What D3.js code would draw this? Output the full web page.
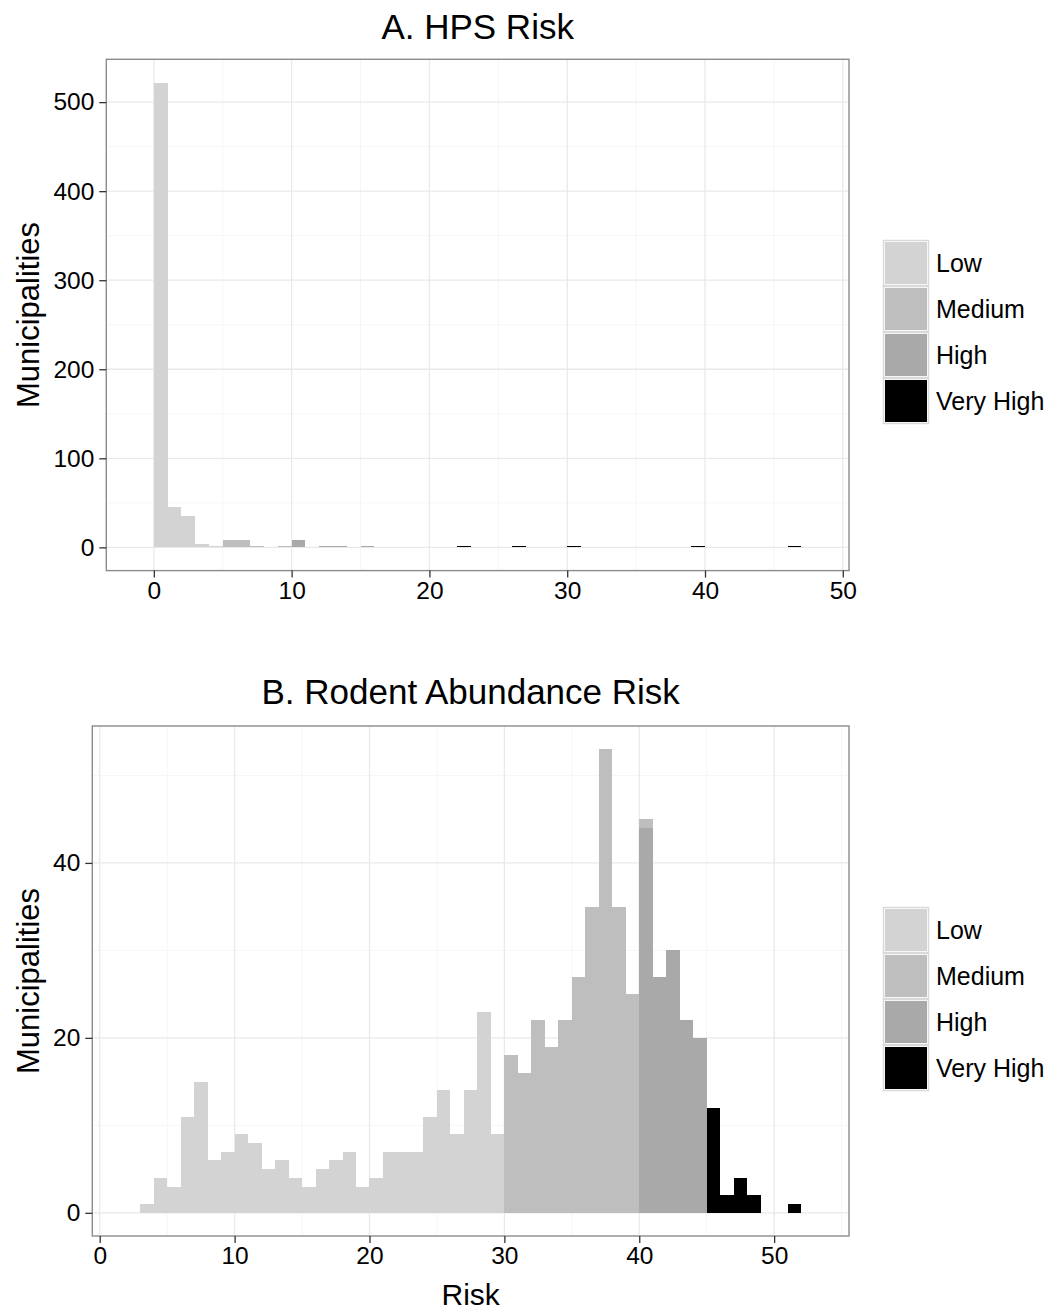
<!DOCTYPE html>
<html>
<head>
<meta charset="utf-8">
<script src="https://cdn.jsdelivr.net/npm/d3@7"></script>
<style>
  body { margin: 0; background: #fff; }
  text { font-family: "Liberation Sans", Arial, sans-serif; fill: #000; }
</style>
</head>
<body>
<svg id="chart" width="1056" height="1313"></svg>
<script>
// risk levels and their fills
const riskLevels = ["Low", "Medium", "High", "Very High"];
const riskColors = ["#d3d3d3", "#bebebe", "#a9a9a9", "#000000"];

// A. HPS risk - counts per bin (bin width 1), each array starts at its bin
const hpsLowStart = 0;
const hpsLow = [522, 45, 35, 4, 2];
const hpsMediumStart = 5;
const hpsMedium = [8, 8, 2, 0, 2];
const hpsHighStart = 10;
const hpsHigh = [8, 0, 1, 1, 0, 1];
const hpsVeryHighStart = 22;
const hpsVeryHigh = [1, 0, 0, 0, 1, 0, 0, 0, 1, 0, 0, 0, 0, 0, 0, 0, 0, 1, 0, 0, 0, 0, 0, 0, 1];

// B. Rodent abundance risk
const rodentLowStart = 3;
const rodentLow = [1, 4, 3, 11, 15, 6, 7, 9, 8, 5, 6, 4, 3, 5, 6, 7, 3, 4, 7, 7, 7, 11, 14, 9, 14, 23, 9];
const rodentMediumStart = 30;
const rodentMedium = [18, 16, 22, 19, 22, 27, 35, 53, 35, 25, 1];
const rodentHighStart = 40;
const rodentHigh = [44, 27, 30, 22, 20];
const rodentVeryHighStart = 45;
const rodentVeryHigh = [12, 2, 4, 2, 0, 0, 1];

const xTicks = [0, 10, 20, 30, 40, 50];
const hpsYTicks = [0, 100, 200, 300, 400, 500];
const rodentYTicks = [0, 20, 40];

const svg = d3.select("#chart");
const color = d3.scaleOrdinal().domain(riskLevels).range(riskColors);

// wide table: one row per bin, one column per level
function buildRows(series) {
  const byBin = new Map();
  series.forEach(s => {
    s.counts.forEach((c, i) => {
      const bin = s.start + i;
      if (!byBin.has(bin)) {
        const row = { bin: bin };
        riskLevels.forEach(l => row[l] = 0);
        byBin.set(bin, row);
      }
      byBin.get(bin)[s.level] += c;
    });
  });
  return Array.from(byBin.values()).sort((a, b) => a.bin - b.bin);
}

function drawPanel(cfg) {
  const rows = buildRows(cfg.series);
  // ggplot stacks the first level on top
  const stacked = d3.stack().keys(riskLevels.slice().reverse())(rows);

  const minBin = d3.min(rows, d => d.bin) - 1;
  const maxBin = d3.max(rows, d => d.bin) + 2;
  const xPad = (maxBin - minBin) * 0.05;
  const yMax = d3.max(stacked, s => d3.max(s, d => d[1]));
  const yPad = yMax * 0.05;

  const x = d3.scaleLinear().domain([minBin - xPad, maxBin + xPad]).range([cfg.left, cfg.right]);
  const y = d3.scaleLinear().domain([-yPad, yMax + yPad]).range([cfg.bottom, cfg.top]);

  const g = svg.append("g");

  // grid (minor then major)
  const xMinor = d3.range(xTicks[0] - 5, xTicks[xTicks.length - 1] + 10, 10).filter(v => v > x.domain()[0] && v < x.domain()[1]);
  const yStep = cfg.yTicks[1] - cfg.yTicks[0];
  const yMinor = d3.range(cfg.yTicks[0] - yStep / 2, cfg.yTicks[cfg.yTicks.length - 1] + yStep, yStep).filter(v => v > y.domain()[0] && v < y.domain()[1]);

  g.selectAll("line.xminor").data(xMinor).enter().append("line")
    .attr("x1", d => x(d)).attr("x2", d => x(d))
    .attr("y1", cfg.top).attr("y2", cfg.bottom)
    .attr("stroke", "#f6f6f6").attr("stroke-width", 1);
  g.selectAll("line.yminor").data(yMinor).enter().append("line")
    .attr("x1", cfg.left).attr("x2", cfg.right)
    .attr("y1", d => y(d)).attr("y2", d => y(d))
    .attr("stroke", "#f6f6f6").attr("stroke-width", 1);
  g.selectAll("line.xmajor").data(xTicks).enter().append("line")
    .attr("x1", d => x(d)).attr("x2", d => x(d))
    .attr("y1", cfg.top).attr("y2", cfg.bottom)
    .attr("stroke", "#e9e9e9").attr("stroke-width", 1.3);
  g.selectAll("line.ymajor").data(cfg.yTicks).enter().append("line")
    .attr("x1", cfg.left).attr("x2", cfg.right)
    .attr("y1", d => y(d)).attr("y2", d => y(d))
    .attr("stroke", "#e9e9e9").attr("stroke-width", 1.3);

  // bars
  g.selectAll("g.layer").data(stacked).enter().append("g")
    .attr("fill", s => color(s.key))
    .attr("shape-rendering", "crispEdges")
    .selectAll("rect").data(s => s.filter(d => d[1] > d[0])).enter().append("rect")
    .attr("x", d => x(d.data.bin))
    .attr("width", d => x(d.data.bin + 1) - x(d.data.bin))
    .attr("y", d => y(d[1]))
    .attr("height", d => Math.max(1, y(d[0]) - y(d[1])));

  // panel border
  g.append("rect")
    .attr("x", cfg.left).attr("y", cfg.top)
    .attr("width", cfg.right - cfg.left).attr("height", cfg.bottom - cfg.top)
    .attr("fill", "none").attr("stroke", "#8c8c8c").attr("stroke-width", 1.4);

  // axes
  const xAxis = g.append("g")
    .attr("transform", `translate(0,${cfg.bottom})`)
    .call(d3.axisBottom(x).tickValues(xTicks).tickSize(7).tickPadding(4));
  const yAxis = g.append("g")
    .attr("transform", `translate(${cfg.left},0)`)
    .call(d3.axisLeft(y).tickValues(cfg.yTicks).tickSize(7).tickPadding(5));
  [xAxis, yAxis].forEach(a => {
    a.select(".domain").remove();
    a.selectAll(".tick line").attr("stroke", "#333").attr("stroke-width", 1.3);
    a.selectAll(".tick text")
      .style("font-family", '"Liberation Sans", Arial, sans-serif')
      .style("font-size", "24.5px").attr("fill", "#000");
  });

  // title
  g.append("text")
    .attr("x", (cfg.left + cfg.right) / 2).attr("y", cfg.titleY)
    .attr("text-anchor", "middle")
    .style("font-size", "35px")
    .text(cfg.title);

  // y title
  g.append("text")
    .attr("transform", `translate(39,${(cfg.top + cfg.bottom) / 2}) rotate(-90)`)
    .attr("text-anchor", "middle")
    .style("font-size", "31px")
    .text("Municipalities");

  if (cfg.xTitle) {
    g.append("text")
      .attr("x", (cfg.left + cfg.right) / 2).attr("y", cfg.xTitleY)
      .attr("text-anchor", "middle")
      .style("font-size", "30px")
      .text(cfg.xTitle);
  }

  // legend
  const keyH = 46, keyW = 46;
  const legend = g.append("g").attr("transform", `translate(883,${cfg.legendTop})`);
  const item = legend.selectAll("g").data(riskLevels).enter().append("g")
    .attr("transform", (d, i) => `translate(0,${i * keyH})`);
  item.append("rect")
    .attr("x", 0.5).attr("y", 0.5)
    .attr("width", keyW - 1).attr("height", keyH - 1)
    .attr("fill", "#fff").attr("stroke", "#d9d9d9").attr("stroke-width", 1.5);
  item.append("rect")
    .attr("x", 2).attr("y", 2)
    .attr("width", keyW - 4).attr("height", keyH - 4)
    .attr("fill", d => color(d));
  item.append("text")
    .attr("x", keyW + 7).attr("y", keyH / 2)
    .attr("dy", "0.35em")
    .style("font-size", "25px")
    .text(d => d);
}

drawPanel({
  title: "A. HPS Risk",
  titleY: 39,
  left: 106.3, right: 849, top: 59.3, bottom: 570.6,
  yTicks: hpsYTicks,
  legendTop: 240,
  series: [
    { level: "Low", start: hpsLowStart, counts: hpsLow },
    { level: "Medium", start: hpsMediumStart, counts: hpsMedium },
    { level: "High", start: hpsHighStart, counts: hpsHigh },
    { level: "Very High", start: hpsVeryHighStart, counts: hpsVeryHigh }
  ]
});

drawPanel({
  title: "B. Rodent Abundance Risk",
  titleY: 704,
  left: 92.3, right: 849, top: 726, bottom: 1236,
  yTicks: rodentYTicks,
  legendTop: 907,
  xTitle: "Risk",
  xTitleY: 1305,
  series: [
    { level: "Low", start: rodentLowStart, counts: rodentLow },
    { level: "Medium", start: rodentMediumStart, counts: rodentMedium },
    { level: "High", start: rodentHighStart, counts: rodentHigh },
    { level: "Very High", start: rodentVeryHighStart, counts: rodentVeryHigh }
  ]
});
</script>
</body>
</html>
